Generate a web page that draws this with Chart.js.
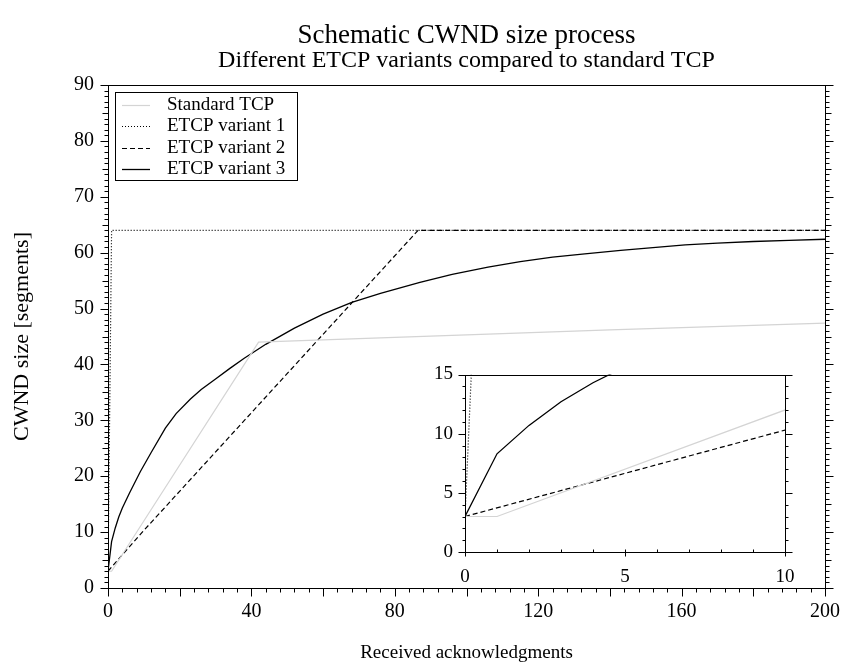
<!DOCTYPE html>
<html>
<head>
<meta charset="utf-8">
<script src="https://cdn.jsdelivr.net/npm/chart.js@4.4.1/dist/chart.umd.min.js"></script>
<style>
  html, body { margin: 0; padding: 0; background: #fff; }
  #wrap { position: relative; width: 842px; height: 668px; }
  #main { position: absolute; left: 0; top: 0; }
  #inset { position: absolute; left: 420px; top: 355px; }
</style>
</head>
<body>
<div id="wrap">
  <canvas id="main" width="842" height="668"></canvas>
  <canvas id="inset" width="390" height="240"></canvas>
</div>
<script>
// valores
const tcpX = [0, 1, 42, 60, 80, 100, 120, 140, 160, 180, 200];
const tcpY = [3, 3, 44, 44.4, 44.85, 45.3, 45.75, 46.2, 46.6, 47.0, 47.4];

const etcp1X = [0, 1, 200];
const etcp1Y = [3, 64, 64];

const etcp2X = [0, 10, 86.5, 200];
const etcp2Y = [3, 10.3, 64, 64];

const etcp3X = [0, 1, 2, 3, 4, 6, 9, 12, 16, 19, 23, 26, 30, 34, 38, 44, 52, 60, 68, 76, 87, 96, 106, 115, 124, 133, 143, 152, 161, 170, 180, 190, 200];
const etcp3Y = [3, 8.3, 10.7, 12.7, 14.3, 17.0, 20.8, 24.2, 28.6, 31.2, 33.8, 35.5, 37.4, 39.3, 41.1, 43.6, 46.5, 49.0, 51.1, 52.7, 54.7, 56.1, 57.4, 58.4, 59.2, 59.8, 60.4, 60.9, 61.4, 61.7, 62.0, 62.2, 62.4];

const seriesNames = ['Standard TCP', 'ETCP variant 1', 'ETCP variant 2', 'ETCP variant 3'];

const mainXTicks = [0, 40, 80, 120, 160, 200];
const mainYTicks = [0, 10, 20, 30, 40, 50, 60, 70, 80, 90];
const insetXTicks = [0, 5, 10];
const insetYTicks = [0, 5, 10, 15];

Chart.defaults.font.family = "'Liberation Serif', 'Times New Roman', serif";
Chart.defaults.color = '#000';

const pts = (xs, ys) => xs.map((x, i) => ({ x: x, y: ys[i] }));

function datasets() {
	return [
		{ label: seriesNames[0], data: pts(tcpX, tcpY), borderColor: '#d4d4d4', borderWidth: 1.2 },
		{ label: seriesNames[1], data: pts(etcp1X, etcp1Y), borderColor: '#000', borderWidth: 1.2, borderDash: [1, 2] },
		{ label: seriesNames[2], data: pts(etcp2X, etcp2Y), borderColor: '#000', borderWidth: 1.2, borderDash: [5, 3] },
		{ label: seriesNames[3], data: pts(etcp3X, etcp3Y), borderColor: '#000', borderWidth: 1.3 }
	].map(d => Object.assign(d, { pointRadius: 0, tension: 0, fill: false }));
}

function isMult(v, s) {
	const r = Math.abs(v / s - Math.round(v / s));
	return r < 1e-6;
}

// sin margenes extra por las etiquetas
function noPad(s) {
	s.paddingLeft = 0; s.paddingRight = 0; s.paddingTop = 0; s.paddingBottom = 0;
}

// marco y marcas de los ejes
const frameTicks = {
	id: 'frameTicks',
	afterDraw(chart, args, o) {
		const { ctx, chartArea: a, scales: { x, y } } = chart;
		const L = Math.round(a.left) + 0.5, R = Math.round(a.right) + 0.5;
		const T = Math.round(a.top) + 0.5, B = Math.round(a.bottom) + 0.5;
		ctx.save();
		ctx.strokeStyle = '#000';
		ctx.lineWidth = 1;
		ctx.strokeRect(L, T, R - L, B - T);
		ctx.beginPath();
		const pick = (v, list) => list.find(t => isMult(v, t.step));
		const xs = o.x[o.x.length - 1].step, ys = o.y[o.y.length - 1].step;
		for (let i = 0; x.min + i * xs <= x.max + 1e-9; i++) {
			const v = x.min + i * xs;
			const t = pick(v, o.x);
			const px = Math.round(x.getPixelForValue(v)) + 0.5;
			ctx.moveTo(px, B - t.inn);
			ctx.lineTo(px, B + t.out);
		}
		for (let i = 0; y.min + i * ys <= y.max + 1e-9; i++) {
			const v = y.min + i * ys;
			const t = pick(v, o.y);
			const py = Math.round(y.getPixelForValue(v)) + 0.5;
			ctx.moveTo(L - t.out, py);
			ctx.lineTo(L + t.inn, py);
			ctx.moveTo(R - t.inn, py);
			ctx.lineTo(R + t.out, py);
		}
		ctx.stroke();
		ctx.restore();
	}
};

// leyenda dentro del area del grafico
const boxLegend = {
	id: 'boxLegend',
	afterDraw(chart, args, o) {
		if (!o.show) return;
		const { ctx } = chart;
		ctx.save();
		ctx.fillStyle = '#fff';
		ctx.fillRect(o.left, o.top, o.width, o.height);
		ctx.strokeStyle = '#000';
		ctx.lineWidth = 1;
		ctx.strokeRect(o.left + 0.5, o.top + 0.5, o.width, o.height);
		ctx.font = o.font;
		ctx.textBaseline = 'middle';
		ctx.fillStyle = '#000';
		chart.data.datasets.forEach((d, i) => {
			const yy = Math.round(o.top + o.first + i * o.row) + 0.5;
			ctx.beginPath();
			ctx.setLineDash(d.borderDash || []);
			ctx.strokeStyle = d.borderColor;
			ctx.lineWidth = d.borderWidth;
			ctx.moveTo(o.left + o.lineFrom, yy);
			ctx.lineTo(o.left + o.lineTo, yy);
			ctx.stroke();
			ctx.setLineDash([]);
			ctx.fillText(d.label, o.left + o.textX, yy);
		});
		ctx.restore();
	}
};

const serif = "'Liberation Serif', 'Times New Roman', serif";

new Chart(document.getElementById('main'), {
	type: 'line',
	data: { datasets: datasets() },
	plugins: [frameTicks, boxLegend],
	options: {
		responsive: false,
		animation: false,
		events: [],
		layout: { padding: { left: 0, right: 17, top: 0, bottom: 0 } },
		plugins: {
			legend: { display: false },
			tooltip: { enabled: false },
			title: {
				display: true,
				text: 'Schematic CWND size process',
				fullSize: false,
				font: { size: 27, weight: 'normal', family: serif, lineHeight: 1 },
				padding: { top: 22, bottom: 0 }
			},
			subtitle: {
				display: true,
				text: 'Different ETCP variants compared to standard TCP',
				fullSize: false,
				font: { size: 24, weight: 'normal', family: serif, lineHeight: 1 },
				padding: { top: 0, bottom: 12 }
			},
			frameTicks: {
				x: [{ step: 20, inn: 0, out: 8 }, { step: 4, inn: 0, out: 4 }],
				y: [{ step: 10, inn: 0, out: 8 }, { step: 5, inn: 0, out: 6 }, { step: 1, inn: 0, out: 4 }]
			},
			boxLegend: {
				show: true,
				left: 115, top: 92, width: 182, height: 88,
				first: 13, row: 21.3,
				lineFrom: 7, lineTo: 35, textX: 52,
				font: "19px 'Liberation Serif', serif"
			}
		},
		scales: {
			x: {
				type: 'linear', min: 0, max: 200,
				grid: { display: false, drawTicks: false },
				border: { display: false },
				afterFit: s => { s.height = 80; noPad(s); },
				afterBuildTicks: s => { s.ticks = mainXTicks.map(v => ({ value: v })); },
				ticks: { autoSkip: false, maxRotation: 0, padding: 12, font: { size: 20 } },
				title: { display: true, text: 'Received acknowledgments', font: { size: 19 }, padding: { top: 0, bottom: 4 } }
			},
			y: {
				type: 'linear', min: 0, max: 90,
				grid: { display: false, drawTicks: false },
				border: { display: false },
				afterFit: s => { s.width = 108; noPad(s); },
				afterBuildTicks: s => { s.ticks = mainYTicks.map(v => ({ value: v })); },
				ticks: { padding: 14, font: { size: 20 } },
				title: { display: true, text: 'CWND size [segments]', font: { size: 22 }, padding: { top: 9, bottom: 0 } }
			}
		}
	}
});

new Chart(document.getElementById('inset'), {
	type: 'line',
	data: { datasets: datasets() },
	plugins: [frameTicks],
	options: {
		responsive: false,
		animation: false,
		events: [],
		layout: { padding: { left: 0, right: 25, top: 19.5, bottom: 0 } },
		plugins: {
			legend: { display: false },
			tooltip: { enabled: false },
			frameTicks: {
				x: [{ step: 5, inn: 3, out: 4 }, { step: 1, inn: 3, out: 0 }],
				y: [{ step: 5, inn: 0, out: 7 }, { step: 1, inn: 0, out: 3 }]
			}
		},
		scales: {
			x: {
				type: 'linear', min: 0, max: 10,
				grid: { display: false, drawTicks: false },
				border: { display: false },
				afterFit: s => { s.height = 43; noPad(s); },
				afterBuildTicks: s => { s.ticks = insetXTicks.map(v => ({ value: v })); },
				ticks: { autoSkip: false, maxRotation: 0, padding: 14, font: { size: 19 } }
			},
			y: {
				type: 'linear', min: 0, max: 15,
				grid: { display: false, drawTicks: false },
				border: { display: false },
				afterFit: s => { s.width = 45; noPad(s); },
				afterBuildTicks: s => { s.ticks = insetYTicks.map(v => ({ value: v })); },
				ticks: { padding: 12, font: { size: 19 } }
			}
		}
	}
});
</script>
</body>
</html>
